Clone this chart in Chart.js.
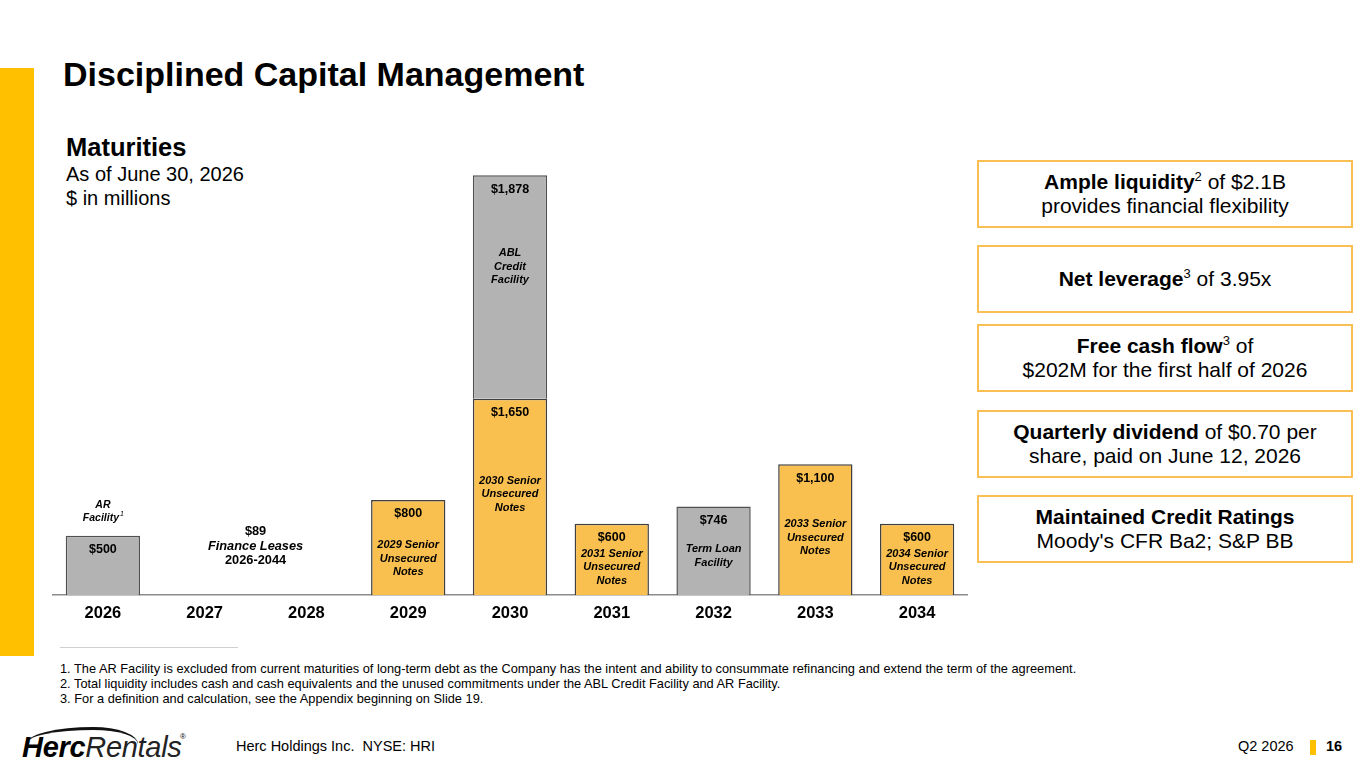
<!DOCTYPE html>
<html>
<head>
<meta charset="utf-8">
<script src="https://cdn.jsdelivr.net/npm/chart.js@4.4.0/dist/chart.umd.min.js"></script>
<style>
  body { margin: 0; width: 1365px; height: 768px; position: relative; background: #fff; font-family: "Liberation Sans", Arial, sans-serif; color: #000; overflow: hidden; }
  .side { position: absolute; left: 0; top: 68px; width: 34px; height: 588px; background: #FFC000; }
  h1 { position: absolute; left: 63px; top: 55px; margin: 0; font-size: 34px; font-weight: bold; }
  .sub { position: absolute; left: 66px; top: 132px; }
  .sub b { display: block; font-size: 25.5px; line-height: 30px; }
  .sub span { display: block; font-size: 20px; line-height: 24px; }
  #wrap { position: absolute; left: 52px; top: 150px; width: 916px; height: 473px; }
  .box { position: absolute; left: 977px; width: 372px; height: 64px; border: 2.5px solid #F9BF53; display: flex; align-items: center; justify-content: center; text-align: center; font-size: 21px; line-height: 24px; }
  .box sup { font-size: 13px; line-height: 0; vertical-align: 8px; }
  .rule { position: absolute; left: 60px; top: 647px; width: 178px; height: 1px; background: #d0d0d0; }
  .notes { position: absolute; left: 60px; top: 661px; font-family: "Liberation Sans Narrow", "Arial Narrow", sans-serif; font-size: 12.8px; line-height: 15px; }
  .logo { position: absolute; left: 22px; top: 726px; width: 170px; height: 40px; }
  .logo .swoosh { position: absolute; left: 4px; top: 1px; width: 112px; height: 14px; border-top: 3px solid #111; border-radius: 60% 40% 0 0 / 100% 100% 0 0; }
  .logo .txt { position: absolute; left: 0; top: 5px; font-size: 29px; font-style: italic; letter-spacing: -0.3px; }
  .logo .txt b { font-weight: 900; }
  .logo .txt span { font-weight: normal; color: #222; }
  .logo .reg { position: absolute; left: 158px; top: 6px; font-size: 8px; }
  .foot { position: absolute; top: 738px; font-size: 14.5px; }
  .pg { position: absolute; left: 1310px; top: 740px; width: 6px; height: 15px; background: #FFC000; }
</style>
</head>
<body>
<div class="side"></div>
<h1>Disciplined Capital Management</h1>
<div class="sub"><b>Maturities</b><span>As of June 30, 2026</span><span>$ in millions</span></div>
<div id="wrap"><canvas id="chart"></canvas></div>

<div class="box" style="top:160px"><div><b>Ample liquidity</b><sup>2</sup> of $2.1B<br>provides financial flexibility</div></div>
<div class="box" style="top:245px"><div><b>Net leverage</b><sup>3</sup> of 3.95x</div></div>
<div class="box" style="top:324px"><div><b>Free cash flow</b><sup>3</sup> of<br>$202M for the first half of 2026</div></div>
<div class="box" style="top:410px"><div><b>Quarterly dividend</b> of $0.70 per<br>share, paid on June 12, 2026</div></div>
<div class="box" style="top:495px"><div><b>Maintained Credit Ratings</b><br>Moody's CFR Ba2; S&amp;P BB</div></div>

<div class="rule"></div>
<div class="notes">
  1. The AR Facility is excluded from current maturities of long-term debt as the Company has the intent and ability to consummate refinancing and extend the term of the agreement.<br>
  2. Total liquidity includes cash and cash equivalents and the unused commitments under the ABL Credit Facility and AR Facility.<br>
  3. For a definition and calculation, see the Appendix beginning on Slide 19.
</div>

<div class="logo"><div class="swoosh"></div><div class="txt"><b>Herc</b><span>Rentals</span></div><div class="reg">®</div></div>
<div class="foot" style="left:236px">Herc Holdings Inc.&nbsp; NYSE: HRI</div>
<div class="foot" style="left:1238px">Q2 2026</div>
<div class="pg"></div>
<div class="foot" style="left:1326px;font-weight:bold">16</div>

<script>
const years = ['2026', '2027', '2028', '2029', '2030', '2031', '2032', '2033', '2034'];
const seniorNotes = [0, 0, 0, 800, 1650, 600, 0, 1100, 600];
const facilities = [500, 0, 0, 0, 1878, 0, 746, 0, 0];
const seniorNotesLabels = ['', '', '', '2029 Senior\nUnsecured\nNotes', '2030 Senior\nUnsecured\nNotes', '2031 Senior\nUnsecured\nNotes', '', '2033 Senior\nUnsecured\nNotes', '2034 Senior\nUnsecured\nNotes'];
const facilityLabels = ['', '', '', '', 'ABL\nCredit\nFacility', '', 'Term Loan\nFacility', '', ''];
const financeLeases = 89;

const FONT = '"Liberation Sans", Arial, sans-serif';

function money(v) {
    return '$' + v.toLocaleString('en-US');
}

// distance from bar top to first description line
const descGap = [
    [0, 0, 0, 45, 82, 30, 0, 60, 30],
    [0, 0, 0, 0, 78, 0, 43, 0, 0]
];

const barLabels = {
    id: 'barLabels',
    afterDatasetsDraw(chart) {
        const ctx = chart.ctx;
        const lists = [seniorNotesLabels, facilityLabels];
        ctx.save();
        ctx.fillStyle = '#000';
        ctx.textAlign = 'center';
        ctx.textBaseline = 'middle';
        chart.data.datasets.forEach((ds, di) => {
            const meta = chart.getDatasetMeta(di);
            meta.data.forEach((bar, i) => {
                const v = ds.data[i];
                if (!v) return;
                const top = bar.y;
                ctx.font = 'bold 12.5px ' + FONT;
                ctx.fillText(money(v), bar.x, top + 14);
                const desc = lists[di][i];
                if (desc) {
                    ctx.font = 'italic bold 11px ' + FONT;
                    desc.split('\n').forEach((line, k) => {
                        ctx.fillText(line, bar.x, top + descGap[di][i] + k * 13.5);
                    });
                }
            });
        });

        // AR Facility note above the 2026 bar
        const ar = chart.getDatasetMeta(1).data[0];
        ctx.font = 'italic bold 10.5px ' + FONT;
        ctx.fillText('AR', ar.x, ar.y - 31);
        ctx.fillText('Facility', ar.x - 2, ar.y - 18);
        const w = ctx.measureText('Facility').width;
        ctx.font = 'italic 7px ' + FONT;
        ctx.fillText('1', ar.x - 2 + w / 2 + 3, ar.y - 22);

        // finance leases note between 2027 and 2028
        const xs = chart.scales.x;
        const cx = (xs.getPixelForValue(1) + xs.getPixelForValue(2)) / 2;
        const base = chart.scales.y.getPixelForValue(0);
        ctx.font = 'bold 12.8px ' + FONT;
        ctx.fillText(money(financeLeases), cx, base - 64);
        ctx.font = 'italic bold 12.8px ' + FONT;
        ctx.fillText('Finance Leases', cx, base - 49);
        ctx.font = 'bold 12.8px ' + FONT;
        ctx.fillText('2026-2044', cx, base - 35);
        ctx.restore();
    }
};

new Chart(document.getElementById('chart').getContext('2d'), {
    type: 'bar',
    data: {
        labels: years,
        datasets: [{
            label: 'Senior Unsecured Notes',
            data: seniorNotes,
            backgroundColor: '#F9BF4F',
            borderColor: '#3f3f3f',
            borderWidth: 1.5
        }, {
            label: 'Facilities',
            data: facilities,
            backgroundColor: '#B3B3B3',
            borderColor: '#505050',
            borderWidth: 1.5
        }]
    },
    options: {
        responsive: true,
        maintainAspectRatio: false,
        animation: false,
        categoryPercentage: 1,
        barPercentage: 0.73,
        layout: { padding: 0 },
        plugins: {
            legend: { display: false },
            tooltip: { enabled: false }
        },
        scales: {
            x: {
                stacked: true,
                grid: { display: false },
                border: { display: true, color: '#8c8c8c', width: 1.5 },
                ticks: {
                    color: '#000',
                    padding: 0,
                    font: { family: FONT, size: 16.5, weight: 'bold' }
                }
            },
            y: {
                stacked: true,
                display: false,
                min: 0,
                max: 3740
            }
        }
    },
    plugins: [barLabels]
});
</script>
</body>
</html>
